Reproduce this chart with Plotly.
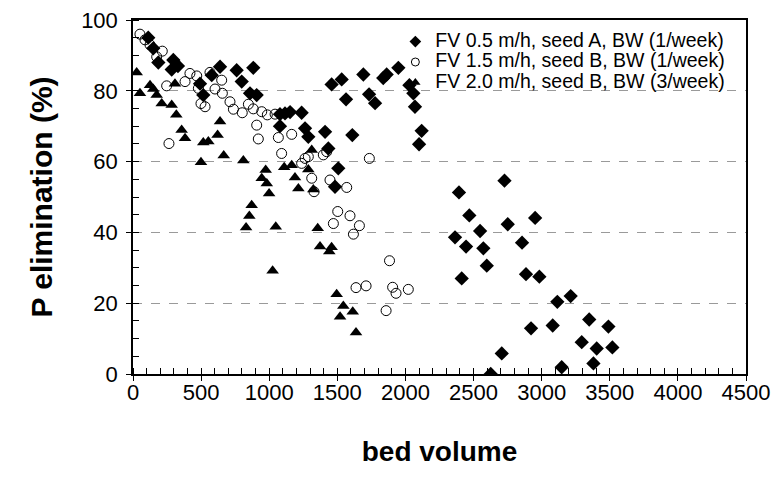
import plotly.graph_objects as go

# Series A: FV 0.5 m/h, seed A, BW (1/week)
a_x = [112, 149, 186, 284, 296, 330, 492, 516, 578, 639, 761, 798, 859, 883, 908,
       1079, 1079, 1116, 1153, 1238, 1263, 1287, 1410, 1434, 1458, 1483, 1507, 1532,
       1564, 1610, 1691, 1733, 1777, 1837, 1862, 1948, 2029, 2058, 2070, 2100, 2119,
       2364, 2393, 2413, 2445, 2469, 2548, 2572, 2597, 2626, 2707, 2727, 2751, 2856,
       2885, 2922, 2952, 2983, 3081, 3115, 3147, 3213, 3294, 3349, 3380, 3404, 3490, 3519]
a_y = [95, 92, 88, 86, 88.7, 87, 82, 78.8, 84.4, 86.8, 85.8, 82.6, 79.3, 86.5, 78.8,
       73.4, 70.0, 73.6, 74, 73.8, 69.4, 67, 68.4, 63.7, 81.8, 52.9, 58.1, 83.2,
       77.6, 67.5, 84.6, 79.0, 76.5, 83.6, 84.6, 86.5, 81.6, 79.3, 75.5, 64.9, 68.7,
       38.6, 51.3, 27.0, 36, 44.8, 40.4, 35.5, 30.6, 0, 5.8, 54.6, 42.3, 37.1,
       28.2, 12.9, 44.1, 27.5, 13.7, 20.4, 1.9, 22, 9.0, 15.4, 3.0, 7.2, 13.4, 7.5]

# Series B: FV 1.5 m/h, seed B, BW (1/week)
b_x = [51, 88, 125, 174, 215, 247, 264, 382, 418, 468, 480, 499, 529, 565, 602, 651,
       656, 712, 737, 802, 847, 883, 908, 920, 945, 986, 1043, 1067, 1091, 1165, 1238,
       1263, 1287, 1312, 1329, 1397, 1422, 1446, 1471, 1503, 1569, 1593, 1618, 1637,
       1662, 1711, 1735, 1858, 1883, 1906, 1931, 2021]
b_y = [96, 94.4, 93, 89.6, 91.2, 81.4, 65.1, 82.6, 84.9, 84.2, 80.7, 76.4, 75.5, 85.2,
       80.5, 83.0, 79.3, 76.9, 74.8, 73.8, 76.2, 74.9, 70.3, 66.4, 74.1, 73.2, 73.4,
       66.8, 62.3, 67.7, 59.5, 60.9, 61.4, 55.3, 51.5, 61.9, 62.8, 54.8, 42.5, 45.9,
       52.7, 44.7, 39.5, 24.4, 41.9, 24.9, 60.9, 17.9, 32, 24.5, 22.8, 23.9]

# Series C: FV 2.0 m/h, seed B, BW (3/week)
c_x = [27, 51, 125, 149, 174, 211, 284, 308, 318, 357, 382, 499, 516, 553, 621, 639,
       666, 810, 830, 854, 871, 945, 974, 982, 999, 1025, 1048, 1110, 1165, 1189, 1214,
       1287, 1312, 1324, 1356, 1373, 1441, 1458, 1495, 1520, 1544, 1613, 1637]
c_y = [85.2, 79.3, 81.6, 80.5, 78.8, 76.4, 76, 82, 73.2, 68.9, 66.6, 59.8, 65.4, 65.7,
       67.5, 71.3, 61.7, 60.3, 41.4, 44.6, 47.7, 55.3, 57.6, 53.8, 51.0, 29.2, 41.6,
       58.4, 59.0, 55.5, 52.4, 57.8, 63.3, 52.1, 41.2, 36, 34.6, 35.8, 22.5, 16.2,
       19.2, 17.6, 11.7]

names = ["FV 0.5 m/h, seed A, BW (1/week)",
         "FV 1.5 m/h, seed B, BW (1/week)",
         "FV 2.0 m/h, seed B, BW (3/week)"]

x_ticks = [0, 500, 1000, 1500, 2000, 2500, 3000, 3500, 4000, 4500]
y_ticks = [0, 20, 40, 60, 80, 100]

fig = go.Figure()

styles = [
    dict(symbol="diamond", size=11, color="black", line=dict(width=0)),
    dict(symbol="circle-open", size=10, color="black", line=dict(width=1, color="black")),
    dict(symbol="triangle-up", size=11, color="black", line=dict(width=0)),
]
legend_styles = [
    dict(symbol="diamond", size=9, color="black", line=dict(width=0)),
    dict(symbol="circle-open", size=8, color="black", line=dict(width=1, color="black")),
    dict(symbol="triangle-up", size=9, color="black", line=dict(width=0)),
]

for xs, ys, nm, st in zip([a_x, b_x, c_x], [a_y, b_y, c_y], names, styles):
    fig.add_trace(go.Scatter(x=xs, y=ys, mode="markers", marker=st, name=nm,
                             showlegend=False))
for nm, st in zip(names, legend_styles):
    fig.add_trace(go.Scatter(x=[None], y=[None], mode="markers", marker=st,
                             name='<span style="font-size:19.5px">' + nm + '</span>'))

# invisible trace on overlaying axes to show inside parts of major ticks
fig.add_trace(go.Scatter(x=[None], y=[None], xaxis="x2", yaxis="y2", showlegend=False))

font_family = "Liberation Sans, Arial, sans-serif"
axis_common = dict(showline=True, linecolor="black", linewidth=1.5, mirror=True,
                   tickcolor="black", tickwidth=1, ticklen=5, ticks="outside",
                   zeroline=False, automargin=False)

fig.update_layout(
    width=773, height=491,
    margin=dict(l=133, r=27, t=20, b=117),
    paper_bgcolor="white", plot_bgcolor="white",
    font=dict(family=font_family, color="black"),
    xaxis=dict(range=[0, 4500], tickvals=x_ticks, showgrid=False,
               tickfont=dict(size=22), ticklabelstandoff=-7,
               minor=dict(dtick=100, ticks="inside", ticklen=6, tickcolor="black", tickwidth=1),
               title=dict(text="<b>bed volume</b>", font=dict(size=28), standoff=37),
               **axis_common),
    yaxis=dict(range=[0, 100], tickvals=y_ticks, showgrid=True, gridcolor="#9a9a9a",
               griddash="dash", gridwidth=1, tickfont=dict(size=22), ticklabelstandoff=4,
               minor=dict(dtick=5, ticks="inside", ticklen=6, tickcolor="black", tickwidth=1),
               title=dict(text="<b>P elimination (%)</b>", font=dict(size=30), standoff=20),
               **axis_common),
    xaxis2=dict(overlaying="x", matches="x", range=[0, 4500], tickvals=x_ticks,
                ticks="inside", ticklen=6, tickcolor="black", showticklabels=False,
                showgrid=False, zeroline=False, showline=False, automargin=False),
    yaxis2=dict(overlaying="y", matches="y", range=[0, 100], tickvals=y_ticks,
                ticks="inside", ticklen=6, tickcolor="black", showticklabels=False,
                showgrid=False, zeroline=False, showline=False, automargin=False),
    legend=dict(x=0.428, y=0.982, xanchor="left", yanchor="top",
                bgcolor="rgba(0,0,0,0)", font=dict(size=13.4, family=font_family),
                itemwidth=30, tracegroupgap=0),
)

fig.write_html("out.html")
